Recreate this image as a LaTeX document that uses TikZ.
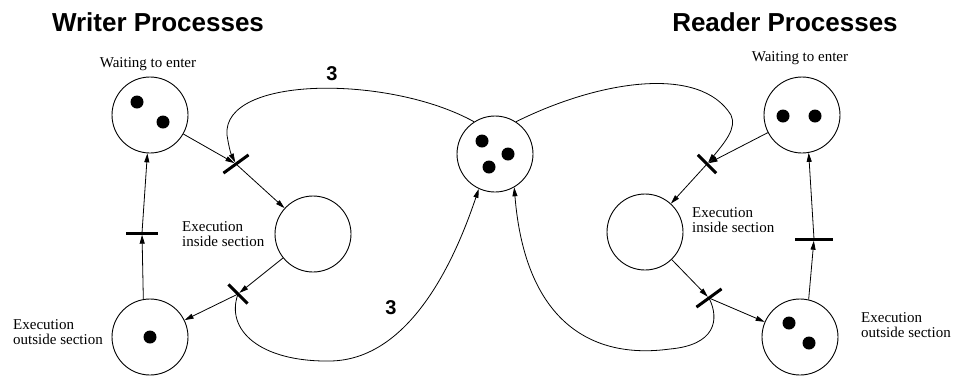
\documentclass[tikz,border=0pt]{standalone}
\usepackage{fontspec}
\setmainfont{Liberation Serif}
\newfontfamily\helv{Liberation Sans}
\usetikzlibrary{arrows.meta}
\begin{document}
\begin{tikzpicture}[x=1pt,y=-1pt,
  place/.style={circle,draw,line width=0.9pt,minimum size=76pt,inner sep=0pt},
  tok/.style={circle,fill=black,minimum size=13pt,inner sep=0pt},
  trbar/.style={rectangle,fill=black,minimum height=3pt,inner sep=0pt},
  arc/.style={line width=0.8pt,-{Triangle[length=9pt,width=5pt]}},
  title/.style={font=\helv\bfseries\fontsize{26}{30}\selectfont,inner sep=0pt},
  weight/.style={font=\helv\bfseries\fontsize{20}{24}\selectfont,inner sep=0pt},
  lbl/.style={font=\fontsize{15}{14.5}\selectfont,inner sep=0pt,align=left}]
\useasboundingbox (0,0) rectangle (956,376);

% titles
\node[title] (tw) at (158,22) {Writer Processes};
\node[title] (tr) at (785,22) {Reader Processes};

% places
\node[place] (Ww) at (150,115) {};
\node[place] (Wi) at (313,234) {};
\node[place] (Wo) at (150,337) {};
\node[place] (C)  at (495,154) {};
\node[place] (Rw) at (802,115) {};
\node[place] (Ri) at (645,232) {};
\node[place] (Ro) at (800,337) {};

% tokens
\node[tok] (t1) at (137,102) {};
\node[tok] (t2) at (163,122) {};
\node[tok] (t3) at (150,337) {};
\node[tok] (t4) at (482,141) {};
\node[tok] (t5) at (508,154) {};
\node[tok] (t6) at (489,167) {};
\node[tok] (t7) at (783,116) {};
\node[tok] (t8) at (815,116) {};
\node[tok] (t9) at (789,323) {};
\node[tok] (t10) at (809,343) {};

% transitions
\node[trbar,minimum width=31pt,rotate=36]  (WT1) at (236,164) {};
\node[trbar,minimum width=27pt,rotate=-45] (WT2) at (238,294) {};
\node[trbar,minimum width=32pt]            (WT3) at (142,233) {};
\node[trbar,minimum width=26pt,rotate=-45] (RT1) at (707,164) {};
\node[trbar,minimum width=31pt,rotate=36]  (RT2) at (709,298) {};
\node[trbar,minimum width=38pt]            (RT3) at (814,239) {};

% labels
\node[lbl,anchor=center] (lw1) at (148,64) {Waiting to enter};
\node[lbl,anchor=west] (lw2) at (182,234) {Execution\\inside section};
\node[lbl,anchor=west] (lw3) at (13,332) {Execution\\outside section};
\node[lbl,anchor=center] (lr1) at (800,58) {Waiting to enter};
\node[lbl,anchor=west] (lr2) at (692,220) {Execution\\inside section};
\node[lbl,anchor=west] (lr3) at (861,325) {Execution\\outside section};
\node[weight] (n1) at (332,74) {3};
\node[weight] (n2) at (391,308) {3};

% writer arcs
\draw[arc] (Ww) -- (WT1);
\draw[arc] (WT1.center) -- (Wi);
\draw[arc] (Wi) -- (WT2);
\draw[arc] (WT2.center) -- (Wo);
\draw[arc] (Wo.100) -- (WT3);
\draw[arc] (WT3.center) -- (Ww);
\draw[arc] (C.123) .. controls (390,75) and (222,75) .. (227,135)
   .. controls (229,148) and (231,154) .. (WT1);
\draw[arc] (WT2.center) .. controls (225,330) and (260,362) .. (330,361)
   .. controls (410,360) and (455,260) .. (C.245);

% reader arcs
\draw[arc] (Rw) -- (RT1);
\draw[arc] (RT1.center) -- (Ri);
\draw[arc] (Ri) -- (RT2);
\draw[arc] (RT2.center) -- (Ro);
\draw[arc] (Ro.77) -- (RT3);
\draw[arc] (RT3.center) -- (Rw.280);
\draw[arc] (C.57) .. controls (600,80) and (700,65) .. (731,115)
   .. controls (737,128) and (725,142) .. (RT1);
\draw[arc] (RT2.center) .. controls (720,320) and (715,345) .. (670,349)
   .. controls (590,360) and (525,320) .. (C.300);
\end{tikzpicture}
\end{document}
